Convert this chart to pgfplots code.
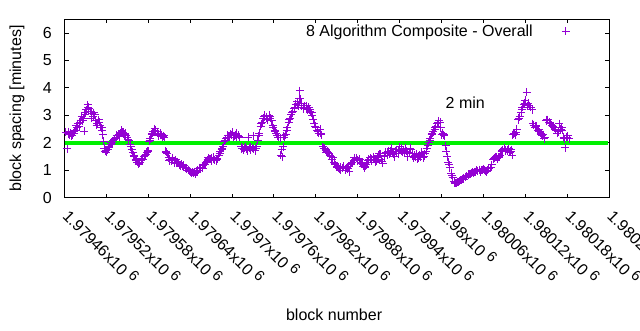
\documentclass[border=0pt]{standalone}
\usepackage{fontspec}
\setmainfont{Liberation Sans}
\usepackage{pgfplots}
\usepackage{pgfplotstable}
\pgfplotsset{compat=1.18}
\definecolor{gpviolet}{RGB}{148,0,211}
\definecolor{gpgreen}{RGB}{0,240,0}
\newcommand{\xl}[1]{#1x10\ \raisebox{0.3em}{\fontsize{11}{12}\selectfont 6}}

\pgfplotstableread{
x y
2 2.38
4 1.78
5 2.33
7 2.30
9 2.36
11 2.28
13 2.35
15 2.45
17 2.62
19 2.70
21 2.58
23 2.80
25 2.95
27 2.88
28 2.42
29 3.05
31 3.20
33 3.38
35 3.25
37 3.15
39 3.08
41 2.95
43 3.02
45 2.80
47 2.70
49 2.85
51 2.62
53 2.55
55 2.30
56 2.05
57 1.80
58 1.70
60 1.65
62 1.75
64 1.85
66 1.95
68 2.00
70 2.08
72 2.15
74 2.20
76 2.25
78 2.30
80 2.35
82 2.45
84 2.38
86 2.30
88 2.25
90 2.20
92 2.10
94 1.95
96 1.75
98 1.65
100 1.50
102 1.40
104 1.30
106 1.22
108 1.28
110 1.35
112 1.40
114 1.50
116 1.58
118 1.65
120 1.70
121 2.05
123 2.15
125 2.30
127 2.40
129 2.52
131 2.40
133 2.35
135 2.30
137 2.28
139 2.30
141 2.22
143 2.20
145 1.70
147 1.60
149 1.45
151 1.40
153 1.35
155 1.42
157 1.30
159 1.38
161 1.28
163 1.25
165 1.20
167 1.22
169 1.15
171 1.18
173 1.10
175 1.05
177 1.00
179 0.98
181 0.95
183 0.92
185 0.90
187 0.88
189 0.95
191 1.00
193 1.05
195 1.10
197 1.12
199 1.18
201 1.22
203 1.30
205 1.38
207 1.42
209 1.40
211 1.45
213 1.42
215 1.38
217 1.35
219 1.40
221 1.55
223 1.70
225 1.75
227 1.85
229 2.05
231 2.15
233 2.20
235 2.25
237 2.20
239 2.30
241 2.38
243 2.25
245 2.30
247 2.20
249 2.28
251 2.20
253 1.85
255 1.80
257 1.75
259 1.85
261 1.78
263 2.20
265 1.80
267 1.75
269 1.82
271 1.78
273 1.72
275 1.85
277 2.10
279 2.35
281 2.60
283 2.75
285 2.90
287 3.00
289 2.95
291 2.85
293 3.00
295 2.90
297 2.80
299 2.55
301 2.45
303 2.35
305 2.25
307 2.20
309 2.18
311 1.75
312 1.50
313 1.85
315 2.20
317 2.30
319 2.55
321 2.75
323 2.90
325 3.05
327 3.15
329 3.25
331 3.40
333 3.50
335 3.35
337 3.90
338 3.60
340 3.45
342 3.30
344 3.35
346 3.25
348 3.20
350 3.30
352 3.15
354 3.10
356 2.85
358 2.70
360 2.55
362 2.45
364 2.35
366 2.50
368 2.30
370 1.85
372 1.80
374 1.75
376 1.70
378 1.65
380 1.55
382 1.50
384 1.45
386 1.30
388 1.20
390 1.15
392 1.10
394 1.05
396 1.12
398 1.08
400 1.15
402 1.00
404 1.10
406 1.05
408 0.95
410 1.20
412 1.30
414 1.35
416 1.40
418 1.45
420 1.38
422 1.42
424 1.30
426 1.25
428 1.15
430 1.10
432 1.20
434 1.30
436 1.40
438 1.45
440 1.35
442 1.50
444 1.40
446 1.30
448 1.45
450 1.55
452 1.60
454 1.40
456 1.25
458 1.50
460 1.65
462 1.55
464 1.70
466 1.60
468 1.80
470 1.65
472 1.50
474 1.70
476 1.75
478 1.60
480 1.85
482 1.70
484 1.65
486 1.75
488 1.80
490 1.70
492 1.50
494 1.65
496 1.75
498 1.60
500 1.45
502 1.55
504 1.60
506 1.40
508 1.55
510 1.50
512 1.65
514 1.45
516 1.60
518 1.70
520 1.90
522 2.00
524 2.15
526 2.30
528 2.40
530 2.50
532 2.60
534 2.70
536 2.80
538 2.75
540 2.30
542 2.35
544 2.25
546 1.90
548 1.50
550 1.30
552 1.10
554 0.90
556 0.75
558 0.60
560 0.52
562 0.55
564 0.58
566 0.62
568 0.65
570 0.70
572 0.68
574 0.75
576 0.78
578 0.82
580 0.85
582 0.88
584 0.92
586 0.90
588 0.95
590 1.00
592 0.98
594 1.02
596 0.95
598 1.00
600 1.05
602 1.00
604 0.95
606 1.00
608 1.05
610 1.10
612 1.20
614 1.40
616 1.45
618 1.50
620 1.42
622 1.48
624 1.55
626 1.70
628 1.75
630 1.80
632 1.70
634 1.75
636 1.78
638 1.65
640 1.75
642 2.30
644 2.35
646 2.30
648 2.50
650 2.85
652 2.95
654 3.10
656 3.30
658 3.40
660 3.55
662 3.85
664 3.45
666 3.35
668 3.30
670 3.20
672 2.65
674 2.55
676 2.60
678 2.45
680 2.40
682 2.35
684 2.25
686 2.30
688 2.20
690 2.80
692 2.85
694 2.75
696 2.70
698 2.65
700 2.60
702 2.55
704 2.45
706 2.35
708 2.40
709 2.70
711 2.50
713 2.45
715 2.20
717 1.82
719 2.20
721 2.25
723 2.15
}\blockdata

\pgfplotstableread{
x y
6 2.40
10 2.25
14 2.40
18 2.55
22 2.75
26 2.80
30 3.10
34 3.30
38 2.90
42 3.10
46 2.65
50 2.75
54 2.45
59 1.72
63 1.82
67 2.02
71 2.12
75 2.28
79 2.22
83 2.40
87 2.35
91 2.12
95 1.85
99 1.55
103 1.35
107 1.25
111 1.42
115 1.55
119 1.72
122 2.10
126 2.35
130 2.45
134 2.25
138 2.35
142 2.25
146 1.65
150 1.35
154 1.45
158 1.25
162 1.32
166 1.15
170 1.12
174 1.08
178 1.02
182 0.90
186 0.95
190 0.92
194 1.10
198 1.08
202 1.28
206 1.45
210 1.35
214 1.48
218 1.42
222 1.62
226 1.80
230 2.10
234 2.28
238 2.32
242 2.20
246 2.35
250 2.22
254 1.78
258 1.80
262 1.72
266 1.85
270 2.25
274 1.78
278 2.25
282 2.70
286 2.95
290 2.90
294 2.95
298 2.65
302 2.40
306 2.20
310 1.55
314 2.25
318 2.45
322 2.85
326 3.10
330 3.30
334 3.45
336 3.60
339 3.35
343 3.25
347 3.35
351 3.20
355 3.00
359 2.60
363 2.40
367 2.35
371 1.80
375 1.65
379 1.60
383 1.40
387 1.25
391 1.12
395 1.00
399 1.12
403 1.05
407 1.15
411 1.25
415 1.45
419 1.35
423 1.38
427 1.22
431 1.15
435 1.35
439 1.40
443 1.45
447 1.35
451 1.60
455 1.32
459 1.55
463 1.62
467 1.70
471 1.58
475 1.62
479 1.72
483 1.80
487 1.68
491 1.62
495 1.80
499 1.52
503 1.50
507 1.45
511 1.58
515 1.52
519 1.80
523 2.10
527 2.35
531 2.55
535 2.75
539 2.55
543 2.30
547 1.70
551 1.20
555 0.82
559 0.55
563 0.58
567 0.63
571 0.72
575 0.75
579 0.85
583 0.90
587 0.92
591 0.98
595 1.00
599 1.02
603 0.98
607 1.05
611 1.12
615 1.42
619 1.48
623 1.50
627 1.72
631 1.75
635 1.72
639 1.70
641 1.55
643 2.32
647 2.38
651 2.90
655 3.20
659 3.45
663 3.35
667 3.30
671 2.70
675 2.62
679 2.50
683 2.30
687 2.15
691 2.85
695 2.72
699 2.58
703 2.50
707 2.42
712 2.55
716 2.15
720 2.20
}\blockdatab

\begin{document}
\begin{tikzpicture}
\begin{axis}[
  at={(0pt,0pt)}, anchor=south west,
  scale only axis, width=408.4pt, height=133.8pt,
  xmin=0, xmax=780, ymin=0, ymax=6.5,
  xtick={0,60,...,780},
  xticklabels={\xl{1.97946},\xl{1.97952},\xl{1.97958},\xl{1.97964},\xl{1.9797},\xl{1.97976},\xl{1.97982},\xl{1.97988},\xl{1.97994},\xl{1.98},\xl{1.98006},\xl{1.98012},\xl{1.98018},\xl{1.98024}},
  ytick={0,1,2,3,4,5,6},
  tick align=inside,
  major tick length=3pt,
  axis line style={line width=0.75pt},
  tick style={line width=0.75pt, black},
  font=\fontsize{12}{14}\selectfont,
  /pgf/number format/assume math mode=true,
  xticklabel style={yshift=-5pt, xshift=6pt, rotate=-45, anchor=north west, inner sep=1pt},
  yticklabel style={xshift=-6pt},
  every axis y label/.style={at={(axis description cs:0,0.5)}, xshift=-35.6pt, rotate=90, anchor=center},
  every axis x label/.style={at={(axis description cs:0.5,0)}, anchor=center, yshift=-88pt, xshift=-2pt},
  ylabel={block spacing [minutes]},
  xlabel={block number},
  legend plot pos=right,
  legend style={draw=none, fill=none, inner sep=0pt, at={(axis description cs:0.942,0.933)}, anchor=east, font=\fontsize{12}{14}\selectfont},
  legend image code/.code={\node[inner sep=0pt, minimum width=1.1cm, minimum height=1pt, draw=none, fill=none] at (0.55cm,0cm) {}; \draw[#1, only marks] plot coordinates {(0.8cm,0cm)};},
]
\addplot[only marks, mark=+, mark size=3pt, color=gpviolet, mark options={line width=0.75pt}] table[x=x, y=y] {\blockdata};
\addlegendentry{8 Algorithm Composite - Overall}
\addplot[only marks, mark=+, mark size=3pt, color=gpviolet, mark options={line width=0.75pt}, forget plot] table[x=x, y=y] {\blockdatab};
\addplot[gpgreen, line width=2.7pt, forget plot] coordinates {(1,2) (779,2)};
\node at (axis cs:574,3.48) {2 min};
\end{axis}
\pgfresetboundingbox
\useasboundingbox (-48.4pt,-99.2pt) rectangle (431.6pt,148.3pt);
\end{tikzpicture}
\end{document}
